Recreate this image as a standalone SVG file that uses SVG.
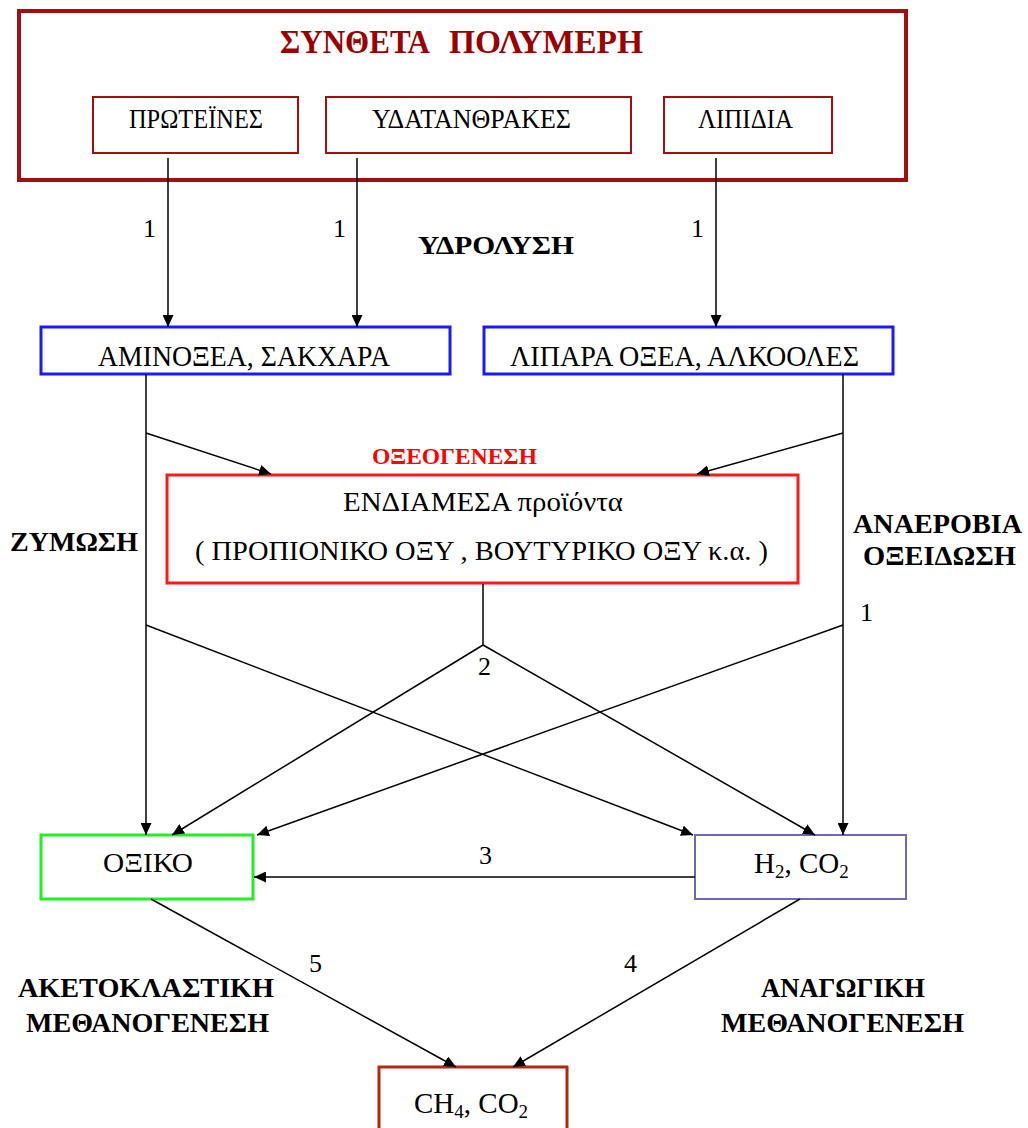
<svg xmlns="http://www.w3.org/2000/svg" width="1028" height="1128" viewBox="0 0 1028 1128">
<style>
text{font-family:"Liberation Serif","Times New Roman",serif;fill:#000}
.b{font-weight:bold}
.t{font-size:27px}
.n{font-size:26px}
.ln{stroke:#000;stroke-width:1.5;fill:none}
.a{marker-end:url(#ah)}
</style>
<defs>
<marker id="ah" markerUnits="userSpaceOnUse" markerWidth="12" markerHeight="11" refX="12" refY="5.5" orient="auto">
<path d="M0,0 L12,5.5 L0,11 z" fill="#000"/>
</marker>
</defs>
<rect width="1028" height="1128" fill="#fff"/>

<g id="polymers">
<rect x="19" y="11" width="887" height="169" fill="none" stroke="#a01010" stroke-width="4"/>
<text class="b" font-size="33" y="53" style="fill:#9b0000"><tspan x="280" textLength="150" lengthAdjust="spacingAndGlyphs">ΣΥΝΘΕΤΑ</tspan><tspan x="449" textLength="194" lengthAdjust="spacingAndGlyphs">ΠΟΛΥΜΕΡΗ</tspan></text>
</g>
<g id="proteins">
<rect x="93" y="97" width="205" height="56" fill="#fff" stroke="#a01010" stroke-width="2"/>
<text class="t" x="129" y="128" textLength="134" lengthAdjust="spacingAndGlyphs">ΠΡΩΤΕΪΝΕΣ</text>
</g>
<g id="carbs">
<rect x="326" y="97" width="305" height="56" fill="#fff" stroke="#a01010" stroke-width="2"/>
<text class="t" x="372" y="128" textLength="199" lengthAdjust="spacingAndGlyphs">ΥΔΑΤΑΝΘΡΑΚΕΣ</text>
</g>
<g id="lipids">
<rect x="664" y="97" width="168" height="56" fill="#fff" stroke="#a01010" stroke-width="2"/>
<text class="t" x="698" y="128" textLength="95" lengthAdjust="spacingAndGlyphs">ΛΙΠΙΔΙΑ</text>
</g>

<g id="aminoacids">
<rect x="41" y="327" width="409" height="47" fill="#fff" stroke="#1a1aff" stroke-width="3"/>
<text font-size="29" x="98" y="366" textLength="292" lengthAdjust="spacingAndGlyphs">ΑΜΙΝΟΞΕΑ, ΣΑΚΧΑΡΑ</text>
</g>
<g id="fattyacids">
<rect x="484" y="327" width="409" height="47" fill="#fff" stroke="#1a1aff" stroke-width="3"/>
<text font-size="29" x="510" y="366" textLength="349" lengthAdjust="spacingAndGlyphs">ΛΙΠΑΡΑ ΟΞΕΑ, ΑΛΚΟΟΛΕΣ</text>
</g>

<g id="intermediates">
<rect x="167" y="475" width="631" height="108" fill="#fff" stroke="#ff1a1a" stroke-width="3"/>
<text font-size="28" x="343" y="511" textLength="280" lengthAdjust="spacingAndGlyphs">ΕΝΔΙΑΜΕΣΑ προϊόντα</text>
<text font-size="28" x="195" y="560" textLength="573" lengthAdjust="spacingAndGlyphs">( ΠΡΟΠΙΟΝΙΚΟ ΟΞΥ , ΒΟΥΤΥΡΙΚΟ ΟΞΥ κ.α. )</text>
</g>

<g id="acetic">
<rect x="41" y="835" width="212" height="64" fill="#fff" stroke="#22ee22" stroke-width="3"/>
<text class="t" x="103" y="872" textLength="90" lengthAdjust="spacingAndGlyphs">ΟΞΙΚΟ</text>
</g>
<g id="h2co2">
<rect x="695" y="835" width="211" height="64" fill="#fff" stroke="#6a6ab8" stroke-width="2"/>
<text font-size="29" x="754" y="873">H<tspan font-size="19" dy="5">2</tspan><tspan dy="-5">, CO</tspan><tspan font-size="19" dy="5">2</tspan></text>
</g>
<g id="ch4co2">
<rect x="379" y="1067" width="188" height="70" fill="#fff" stroke="#b02a10" stroke-width="3"/>
<text font-size="29" x="414" y="1113">CH<tspan font-size="19" dy="5">4</tspan><tspan dy="-5">, CO</tspan><tspan font-size="19" dy="5">2</tspan></text>
</g>

<g id="connectors">
<line class="ln a" x1="168" y1="158" x2="168" y2="327"/>
<line class="ln a" x1="357" y1="158" x2="357" y2="327"/>
<line class="ln a" x1="716" y1="158" x2="716" y2="327"/>
<line class="ln a" x1="146" y1="374" x2="146" y2="835"/>
<line class="ln a" x1="843" y1="374" x2="843" y2="835"/>
<line class="ln a" x1="146" y1="433" x2="271" y2="474"/>
<line class="ln a" x1="843" y1="433" x2="697" y2="474"/>
<polyline class="ln" points="483,584 483,645"/>
<line class="ln a" x1="483" y1="645" x2="172" y2="835"/>
<line class="ln a" x1="483" y1="645" x2="815" y2="835"/>
<line class="ln a" x1="146" y1="625" x2="693" y2="835"/>
<line class="ln a" x1="843" y1="625" x2="257" y2="835"/>
<line class="ln a" x1="695" y1="877" x2="254" y2="877"/>
<line class="ln a" x1="151" y1="899" x2="456" y2="1067"/>
<line class="ln a" x1="800" y1="899" x2="513" y2="1067"/>
</g>

<g id="labels">
<text class="n" x="143" y="237">1</text>
<text class="n" x="333" y="237">1</text>
<text class="n" x="691" y="237">1</text>
<text class="b" font-size="26" x="418" y="254" textLength="156" lengthAdjust="spacingAndGlyphs">ΥΔΡΟΛΥΣΗ</text>
<text class="b" font-size="23" x="372" y="464" textLength="165" lengthAdjust="spacingAndGlyphs" style="fill:#ff0000">ΟΞΕΟΓΕΝΕΣΗ</text>
<text class="b" font-size="27" x="10" y="551" textLength="128" lengthAdjust="spacingAndGlyphs">ΖΥΜΩΣΗ</text>
<text class="b" font-size="27" x="853" y="533" textLength="169" lengthAdjust="spacingAndGlyphs">ΑΝΑΕΡΟΒΙΑ</text>
<text class="b" font-size="27" x="863" y="565" textLength="153" lengthAdjust="spacingAndGlyphs">ΟΞΕΙΔΩΣΗ</text>
<text class="n" x="860" y="621">1</text>
<text class="n" x="478" y="675">2</text>
<text class="n" x="479" y="864">3</text>
<text class="n" x="309" y="972">5</text>
<text class="n" x="624" y="972">4</text>
<text class="b" font-size="27" x="18" y="997" textLength="256" lengthAdjust="spacingAndGlyphs">ΑΚΕΤΟΚΛΑΣΤΙΚΗ</text>
<text class="b" font-size="27" x="26" y="1032" textLength="243" lengthAdjust="spacingAndGlyphs">ΜΕΘΑΝΟΓΕΝΕΣΗ</text>
<text class="b" font-size="27" x="761" y="997" textLength="164" lengthAdjust="spacingAndGlyphs">ΑΝΑΓΩΓΙΚΗ</text>
<text class="b" font-size="27" x="721" y="1032" textLength="243" lengthAdjust="spacingAndGlyphs">ΜΕΘΑΝΟΓΕΝΕΣΗ</text>
</g>
</svg>
